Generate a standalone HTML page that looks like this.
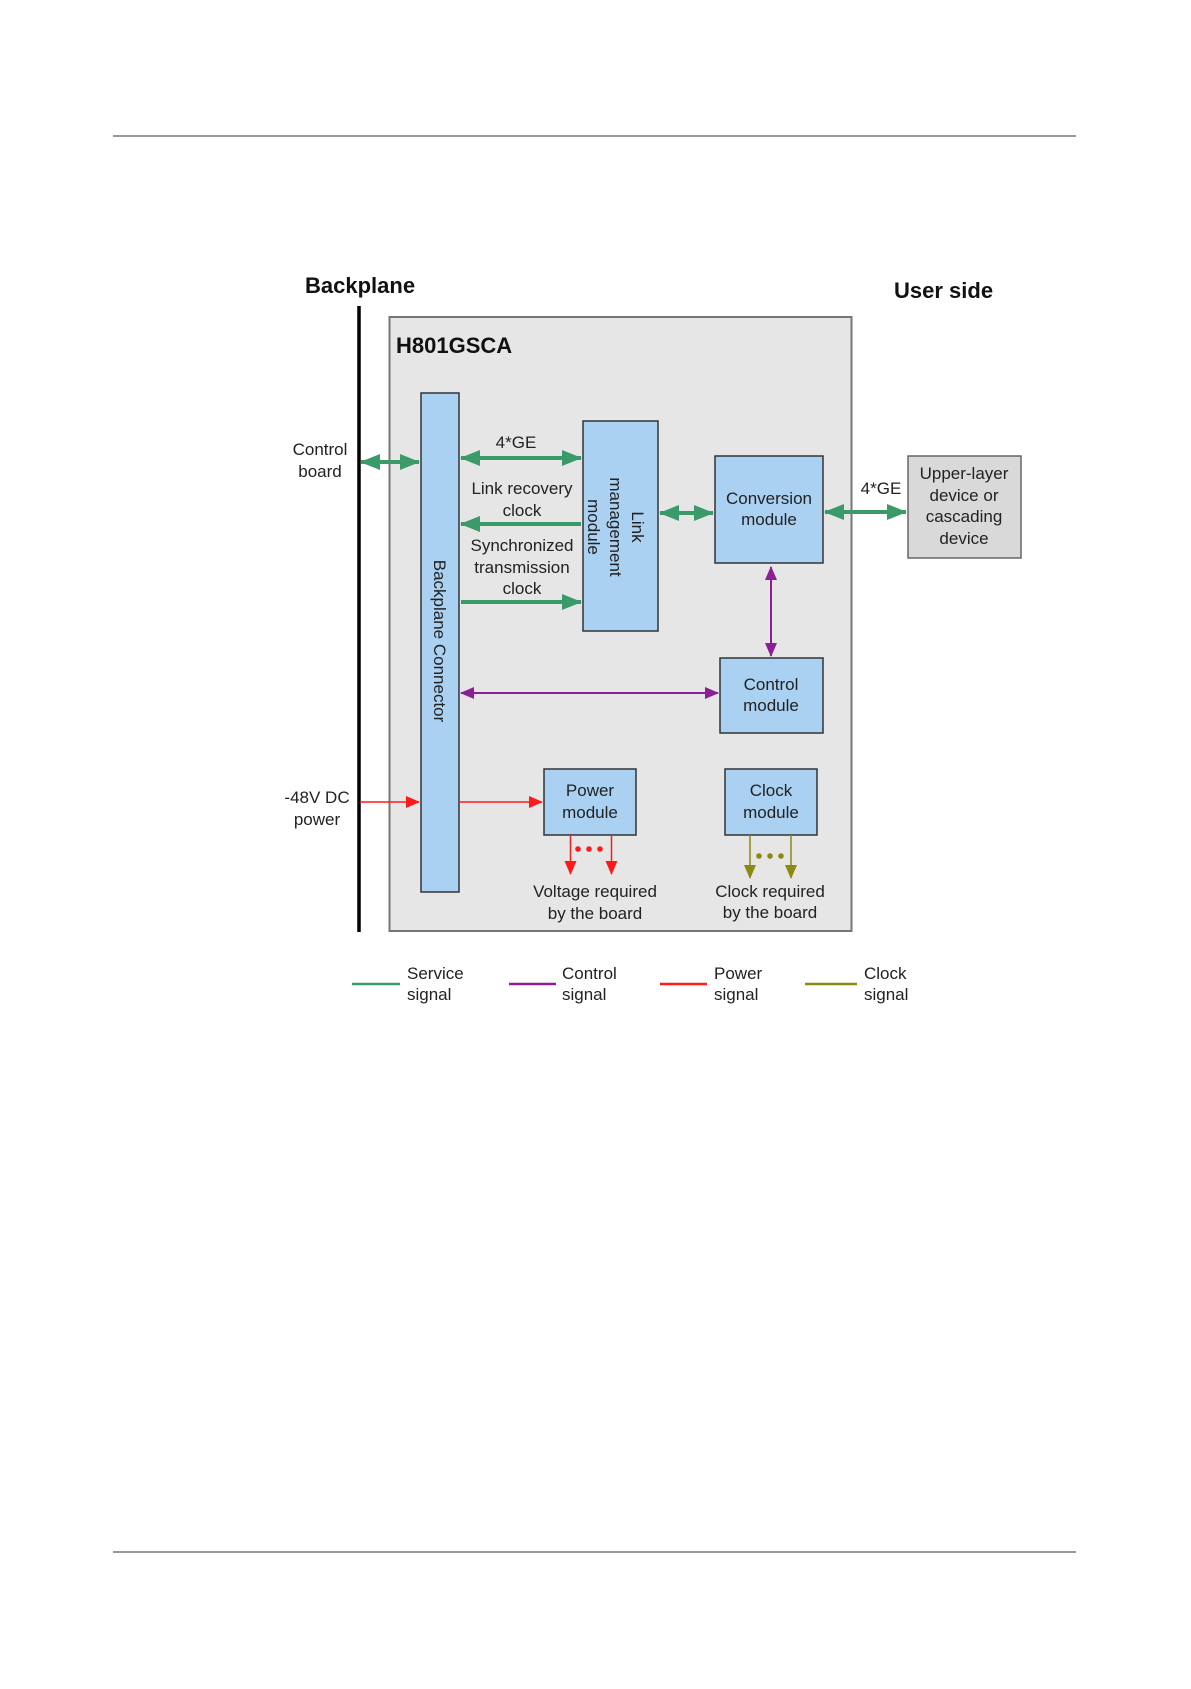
<!DOCTYPE html>
<html><head><meta charset="utf-8"><style>
html,body{margin:0;padding:0;background:#fff;}
svg text{font-family:"Liberation Sans",Arial,sans-serif;}
</style></head><body>
<svg width="1191" height="1684" viewBox="0 0 1191 1684" xmlns="http://www.w3.org/2000/svg">
<defs>
<marker id="g" markerUnits="userSpaceOnUse" markerWidth="20" markerHeight="16" refX="19" refY="8" orient="auto-start-reverse"><path d="M0,0 L20,8 L0,16 Z" fill="#3a9a6a"/></marker>
<marker id="p" markerUnits="userSpaceOnUse" markerWidth="14" markerHeight="12" refX="13" refY="6" orient="auto-start-reverse"><path d="M0,0 L14,6 L0,12 Z" fill="#8a1f96"/></marker>
<marker id="r" markerUnits="userSpaceOnUse" markerWidth="14" markerHeight="12" refX="13" refY="6" orient="auto-start-reverse"><path d="M0,0 L14,6 L0,12 Z" fill="#ff1a1a"/></marker>
<marker id="o" markerUnits="userSpaceOnUse" markerWidth="14" markerHeight="12" refX="13" refY="6" orient="auto-start-reverse"><path d="M0,0 L14,6 L0,12 Z" fill="#8a8a10"/></marker>
</defs>
<line x1="113" y1="136" x2="1076" y2="136" stroke="#333" stroke-width="1"/>
<line x1="113" y1="1552" x2="1076" y2="1552" stroke="#333" stroke-width="1"/>
<text x="305" y="293" font-size="22" font-weight="bold" fill="#111">Backplane</text>
<text x="894" y="298" font-size="22" font-weight="bold" fill="#111">User side</text>
<line x1="359" y1="306" x2="359" y2="932" stroke="#000" stroke-width="3.5"/>
<rect x="389.5" y="317" width="462" height="614" fill="#e6e6e6" stroke="#777" stroke-width="2"/>
<text x="396" y="353" font-size="22" font-weight="bold" fill="#111">H801GSCA</text>
<g fill="#aad0f2" stroke="#333" stroke-width="1.5">
<rect x="421" y="393" width="38" height="499"/>
<rect x="583" y="421" width="75" height="210"/>
<rect x="715" y="456" width="108" height="107"/>
<rect x="720" y="658" width="103" height="75"/>
<rect x="544" y="769" width="92" height="66"/>
<rect x="725" y="769" width="92" height="66"/>
</g>
<rect x="908" y="456" width="113" height="102" fill="#d9d9d9" stroke="#666" stroke-width="1.5"/>
<g font-size="17" fill="#222" text-anchor="middle">
<text transform="translate(434,641) rotate(90)">Backplane Connector</text>
<g transform="translate(620,527) rotate(90)"><text x="0" y="-12">Link</text><text x="0" y="10">management</text><text x="0" y="32">module</text></g>
<text x="769" y="504">Conversion</text><text x="769" y="525">module</text>
<text x="771" y="690">Control</text><text x="771" y="711">module</text>
<text x="590" y="796">Power</text><text x="590" y="818">module</text>
<text x="771" y="796">Clock</text><text x="771" y="818">module</text>
<text x="964" y="479">Upper-layer</text><text x="964" y="501">device or</text><text x="964" y="522">cascading</text><text x="964" y="544">device</text>
<text x="516" y="448">4*GE</text>
<text x="522" y="494">Link recovery</text><text x="522" y="516">clock</text>
<text x="522" y="551">Synchronized</text><text x="522" y="573">transmission</text><text x="522" y="594">clock</text>
<text x="881" y="494">4*GE</text>
<text x="320" y="455">Control</text><text x="320" y="477">board</text>
<text x="317" y="803">-48V DC</text><text x="317" y="825">power</text>
<text x="595" y="897">Voltage required</text><text x="595" y="919">by the board</text>
<text x="770" y="897">Clock required</text><text x="770" y="918">by the board</text>
</g>
<g stroke="#3a9a6a" stroke-width="4" fill="none">
<line x1="361" y1="462" x2="419" y2="462" marker-start="url(#g)" marker-end="url(#g)"/>
<line x1="461" y1="458" x2="581" y2="458" marker-start="url(#g)" marker-end="url(#g)"/>
<line x1="581" y1="524" x2="461" y2="524" marker-end="url(#g)"/>
<line x1="461" y1="602" x2="581" y2="602" marker-end="url(#g)"/>
<line x1="660" y1="513" x2="713" y2="513" marker-start="url(#g)" marker-end="url(#g)"/>
<line x1="825" y1="512" x2="906" y2="512" marker-start="url(#g)" marker-end="url(#g)"/>
</g>
<g stroke="#8a1f96" stroke-width="2">
<line x1="771" y1="567" x2="771" y2="656" marker-start="url(#p)" marker-end="url(#p)"/>
<line x1="461" y1="693" x2="718" y2="693" marker-start="url(#p)" marker-end="url(#p)"/>
</g>
<g stroke="#ff1a1a" stroke-width="1.5">
<line x1="360" y1="802" x2="419" y2="802" marker-end="url(#r)"/>
<line x1="460" y1="802" x2="542" y2="802" marker-end="url(#r)"/>
<line x1="570.5" y1="835" x2="570.5" y2="874" marker-end="url(#r)"/>
<line x1="611.5" y1="835" x2="611.5" y2="874" marker-end="url(#r)"/>
</g>
<g fill="#ff1a1a"><circle cx="578" cy="849" r="2.8"/><circle cx="589" cy="849" r="2.8"/><circle cx="600" cy="849" r="2.8"/></g>
<g stroke="#8a8a10" stroke-width="1.5">
<line x1="750" y1="835" x2="750" y2="878" marker-end="url(#o)"/>
<line x1="791" y1="835" x2="791" y2="878" marker-end="url(#o)"/>
</g>
<g fill="#8a8a10"><circle cx="759" cy="856" r="2.8"/><circle cx="770" cy="856" r="2.8"/><circle cx="781" cy="856" r="2.8"/></g>
<g stroke-width="2.5">
<line x1="352" y1="984" x2="400" y2="984" stroke="#3a9a6a"/>
<line x1="509" y1="984" x2="556" y2="984" stroke="#8a1f96"/>
<line x1="660" y1="984" x2="707" y2="984" stroke="#ff1a1a"/>
<line x1="805" y1="984" x2="857" y2="984" stroke="#8a8a10"/>
</g>
<g font-size="17" fill="#222">
<text x="407" y="979">Service</text><text x="407" y="1000">signal</text>
<text x="562" y="979">Control</text><text x="562" y="1000">signal</text>
<text x="714" y="979">Power</text><text x="714" y="1000">signal</text>
<text x="864" y="979">Clock</text><text x="864" y="1000">signal</text>
</g>
</svg>
</body></html>
